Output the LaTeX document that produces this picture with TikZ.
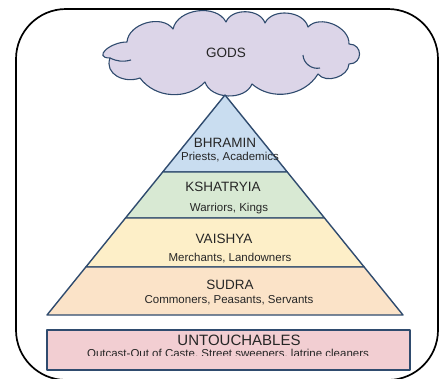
\documentclass[tikz,border=0pt]{standalone}
\usepackage{fontspec}
\setmainfont{Liberation Sans}
\usepackage{tikz}
\usetikzlibrary{calc}
\definecolor{tierline}{HTML}{2F4B6E}
\definecolor{labeltext}{HTML}{262626}
\definecolor{skyfill}{HTML}{DCD5E8}
\definecolor{priestfill}{HTML}{C9DDF0}
\definecolor{warriorfill}{HTML}{D8E9D3}
\definecolor{merchantfill}{HTML}{FDEFC8}
\definecolor{commonfill}{HTML}{FBE3C8}
\definecolor{outcastfill}{HTML}{F2CED2}
\tikzset{
  tier/.style={draw=tierline, line width=1.4pt, line join=round},
  caste/.style={anchor=base, inner sep=0pt, text=labeltext, font=\fontsize{13.5}{15}\selectfont},
  duty/.style={anchor=base, inner sep=0pt, text=labeltext, font=\fontsize{11.5}{13}\selectfont},
  sky/.style={draw=tierline, line width=1.1pt, line join=round, fill=skyfill},
  puff/.style={bend left=#1},
  puff/.default=70
}

\begin{document}
\begin{tikzpicture}[x=1pt,y=-1pt]
  \useasboundingbox (0,0) rectangle (439,378);
  \clip (0,0) rectangle (439,378);
  \draw[line width=1.7pt, rounded corners=50pt] (16,9) rectangle (438,380);

  % the cloud on top, one arc per puff
  \draw[sky] (127,42) to[puff] (173,29) to[puff] (226,22) to[puff] (265,23)
    to[puff] (308,27) to[puff] (349,44) to[out=0, in=0, looseness=1.8] (349,64)
    to[puff] (318,74) to[puff=50] (252,84) to[puff] (205,82) to[puff=50] (140,78)
    to[out=200, in=250, looseness=1.2] (110,58)
    to[out=180, in=180, looseness=1.9] cycle;
  \draw[sky, fill=none] (110,58) to[bend right=20] (131,60);
  \draw[sky, fill=none] (303,55) to[bend right=50] (320,68);
  \node[caste] (gods) at (226,57) {GODS};

  % pyramid corners and the tier borders along its sides
  \coordinate (apex) at (225,95);
  \coordinate (bl) at (47,315);
  \coordinate (br) at (403,315);
  \foreach \f/\n in {0.35/a,0.559/b,0.782/c} {
    \coordinate (l\n) at ($(apex)!\f!(bl)$);
    \coordinate (r\n) at ($(apex)!\f!(br)$);
  }

  \draw[tier, fill=priestfill] (apex) -- (ra) -- (la) -- cycle;
  \draw[tier, fill=warriorfill] (la) -- (ra) -- (rb) -- (lb) -- cycle;
  \draw[tier, fill=merchantfill] (lb) -- (rb) -- (rc) -- (lc) -- cycle;
  \draw[tier, fill=commonfill] (lc) -- (rc) -- (br) -- (bl) -- cycle;

  \node[caste] (bhramin) at (225,147) {BHRAMIN};
  \node[duty] (priests) at (230,160) {Priests, Academics};
  \node[caste] (kshatryia) at (223,191) {KSHATRYIA};
  \node[duty] (warriors) at (229,211) {Warriors, Kings};
  \node[caste] (vaishya) at (224,243) {VAISHYA};
  \node[duty] (merchants) at (230,261) {Merchants, Landowners};
  \node[caste] (sudra) at (230,289) {SUDRA};
  \node[duty] (commoners) at (229,303) {Commoners, Peasants, Servants};

  % the box under the pyramid
  \draw[tier, fill=outcastfill] (47,330) rectangle (410,370);
  \node[caste, font=\fontsize{15}{17}\selectfont] (untouchables) at (239,345) {UNTOUCHABLES};
  \begin{scope}
    \clip (47,330) rectangle (410,355.5);
    \node[duty] (outcast) at (228,357) {Outcast-Out of Caste, Street sweepers, latrine cleaners};
  \end{scope}
\end{tikzpicture}
\end{document}
